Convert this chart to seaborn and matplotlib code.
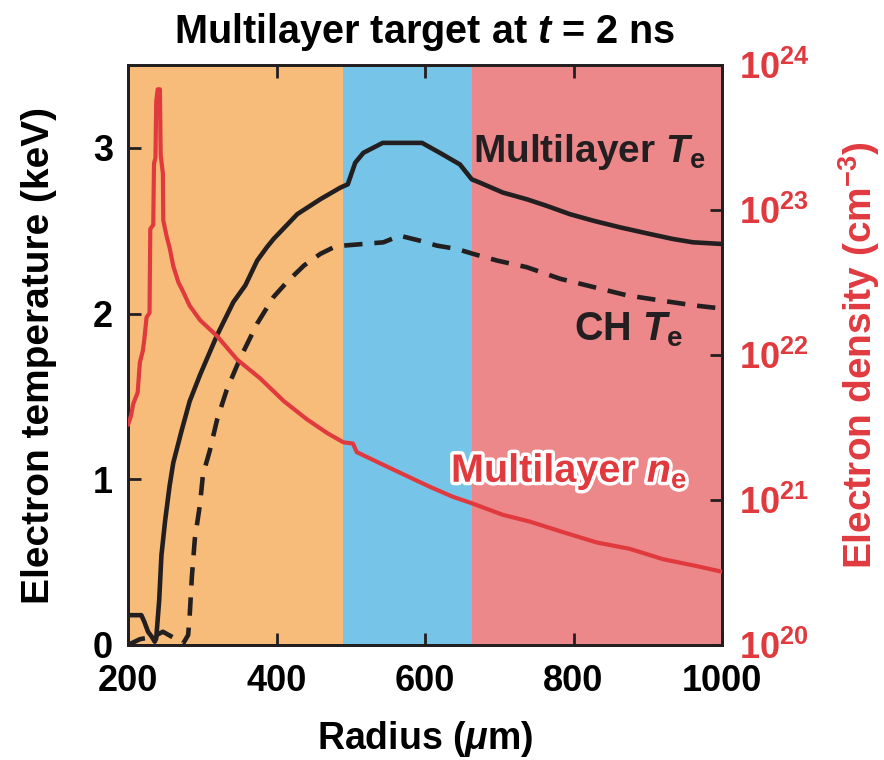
import matplotlib
matplotlib.use("Agg")
import matplotlib.pyplot as plt
import pandas as pd
import seaborn as sns
from matplotlib import patheffects as pe
from matplotlib.ticker import FixedLocator, NullLocator

# ---- data ---------------------------------------------------------------
# multilayer electron temperature (keV) vs radius (um)
r_ml = [200, 218, 222, 227, 232, 236, 238, 242, 245, 250, 256, 261, 272, 283,
        297, 320, 342, 358, 374, 387, 396, 428, 459, 486, 496, 506, 517, 543,
        596, 620, 647, 663, 674, 705, 737, 764, 795, 827, 863, 903, 934, 961, 1000]
te_ml = [0.18, 0.18, 0.14, 0.08, 0.05, 0.02, 0.04, 0.27, 0.54, 0.75, 0.96, 1.10,
         1.29, 1.47, 1.63, 1.87, 2.07, 2.17, 2.32, 2.40, 2.45, 2.60, 2.69, 2.76,
         2.78, 2.91, 2.97, 3.03, 3.03, 2.97, 2.90, 2.81, 2.79, 2.73, 2.69, 2.65,
         2.60, 2.56, 2.52, 2.48, 2.45, 2.43, 2.42]

# CH electron temperature (keV) vs radius (um)
r_ch = [200, 216, 234, 247, 265, 274, 281, 283, 286, 290, 297, 301, 310, 320,
        333, 351, 374, 396, 414, 437, 459, 477, 490, 544, 566, 593, 616, 643,
        665, 697, 737, 782, 827, 872, 916, 961, 1000]
te_ch = [0.0, 0.035, 0.05, 0.08, 0.035, 0.007, 0.06, 0.17, 0.41, 0.64, 0.85,
         1.03, 1.17, 1.36, 1.54, 1.73, 1.94, 2.10, 2.19, 2.29, 2.36, 2.40, 2.41,
         2.43, 2.47, 2.44, 2.41, 2.39, 2.36, 2.32, 2.28, 2.21, 2.16, 2.11, 2.08,
         2.05, 2.03]

# multilayer electron density (cm^-3) vs radius (um)
r_ne = [200, 204, 207, 213, 216, 220, 222, 225, 229, 230, 234, 235, 237, 238,
        240, 243, 244, 247, 247.5, 252, 256, 261, 268, 274, 283, 297, 320, 347,
        378, 410, 441, 468, 490, 503, 508, 553, 607, 638, 663, 705, 741, 786,
        831, 876, 921, 966, 1000]
ne_ml = [3.3e21, 3.8e21, 4.6e21, 5.5e21, 8.9e21, 1.07e22, 1.29e22, 1.82e22,
         1.95e22, 7.4e22, 7.9e22, 2.09e23, 2.29e23, 5.6e23, 6.8e23, 6.8e23,
         2.4e23, 1.78e23, 8.5e22, 6.6e22, 5.5e22, 4.1e22, 3.16e22, 2.75e22,
         2.19e22, 1.74e22, 1.35e22, 9.3e21, 6.9e21, 4.8e21, 3.6e21, 2.9e21,
         2.5e21, 2.45e21, 2.14e21, 1.66e21, 1.23e21, 1.05e21, 9.5e20, 7.9e20,
         7.1e20, 6.0e20, 5.1e20, 4.6e20, 3.9e20, 3.5e20, 3.2e20]

# target layers (radial extent, um) and their shading
layer_edges = [200, 490, 663, 1000]
layer_colors = ["#F7BC79", "#76C4E8", "#EC878A"]

x_ticks = [200, 400, 600, 800, 1000]
te_ticks = [0, 1, 2, 3]
ne_ticks = [1e20, 1e21, 1e22, 1e23, 1e24]
ne_tick_labels = ["10$^{20}$", "10$^{21}$", "10$^{22}$", "10$^{23}$", "10$^{24}$"]

# ---- style --------------------------------------------------------------
sns.set_theme(style="ticks")
plt.rcParams["font.family"] = ["Liberation Sans", "DejaVu Sans"]
plt.rcParams["font.weight"] = "bold"
plt.rcParams["mathtext.fontset"] = "custom"
plt.rcParams["mathtext.default"] = "regular"
plt.rcParams["mathtext.it"] = "Liberation Sans:italic:bold"
plt.rcParams["mathtext.rm"] = "Liberation Sans:bold"
plt.rcParams["mathtext.bf"] = "Liberation Sans:bold"

BLACK = "#231F20"
RED = "#E03A3F"

fig = plt.figure(figsize=(8.84, 7.6), dpi=100)
ax = fig.add_axes([128 / 884, 1 - 645 / 760, 594 / 884, 580 / 760])

for lo, hi, c in zip(layer_edges[:-1], layer_edges[1:], layer_colors):
    ax.axvspan(lo, hi, color=c, lw=0, zorder=0)

df_ml = pd.DataFrame({"r": r_ml, "te": te_ml})
df_ch = pd.DataFrame({"r": r_ch, "te": te_ch})
df_ne = pd.DataFrame({"r": r_ne, "ne": ne_ml})

sns.lineplot(data=df_ml, x="r", y="te", ax=ax, color=BLACK, lw=3.3,
             estimator=None, sort=False, zorder=3)
sns.lineplot(data=df_ch, x="r", y="te", ax=ax, color=BLACK, lw=3.3,
             estimator=None, sort=False, zorder=3)
ax.lines[-1].set_dashes([4.0, 2.6])

ax.set_xlim(200, 1000)
ax.set_ylim(0, 3.5)
ax.xaxis.set_major_locator(FixedLocator(x_ticks))
ax.yaxis.set_major_locator(FixedLocator(te_ticks))
ax.tick_params(axis="both", direction="in", length=9, width=2, color=BLACK,
               labelsize=26, labelcolor="black", top=True, right=False)
ax.tick_params(axis="x", pad=14)
ax.tick_params(axis="y", pad=11)
for lab in ax.get_xticklabels() + ax.get_yticklabels():
    lab.set_fontweight("bold")
for s in ax.spines.values():
    s.set_linewidth(2)
    s.set_color(BLACK)

ax.set_xlabel("Radius ($\\mathit{\\mu}$m)", fontsize=27, fontweight="bold",
              color="black")
ax.set_ylabel("Electron temperature (keV)", fontsize=28, fontweight="bold",
              color="black")
ax.xaxis.set_label_coords(0.5, -0.127)
ax.yaxis.set_label_coords(-0.119, 0.5)

ax2 = ax.twinx()
sns.lineplot(data=df_ne, x="r", y="ne", ax=ax2, color=RED, lw=3.0,
             estimator=None, sort=False, zorder=4)
ax2.set_yscale("log")
ax2.set_ylim(1e20, 1e24)
ax2.set_xlim(200, 1000)
ax2.yaxis.set_major_locator(FixedLocator(ne_ticks))
ax2.yaxis.set_minor_locator(NullLocator())
ax2.set_yticklabels(ne_tick_labels)
ax2.tick_params(axis="y", direction="in", length=9, width=2, color=BLACK,
                labelsize=26, labelcolor=RED, pad=12)
for lab in ax2.get_yticklabels():
    lab.set_fontweight("bold")
for s in ax2.spines.values():
    s.set_linewidth(2)
    s.set_color(BLACK)
ax2.set_ylabel("Electron density (cm$^{-3}$)", fontsize=28, fontweight="bold",
               color=RED)
ax2.yaxis.set_label_coords(1.193, 0.5)

ax.set_title("Multilayer target at $\\mathit{t}$ = 2 ns", fontsize=28.5,
             fontweight="bold", color="black", pad=16)

# curve labels
ax.text(664, 2.975, "Multilayer $\\mathit{T}_{e}$", fontsize=28,
        fontweight="bold", color=BLACK, ha="left", va="center", zorder=6)
ax.text(801, 1.9, "CH $\\mathit{T}_{e}$", fontsize=28.5, fontweight="bold",
        color=BLACK, ha="left", va="center", zorder=6)
ax2.text(635, 10 ** 21.2, "Multilayer $\\mathit{n}_{e}$", fontsize=28.5,
         fontweight="bold", color=RED, ha="left", va="center", zorder=6,
         path_effects=[pe.withStroke(linewidth=5, foreground="white")])

fig.savefig("out.png", dpi=100)
